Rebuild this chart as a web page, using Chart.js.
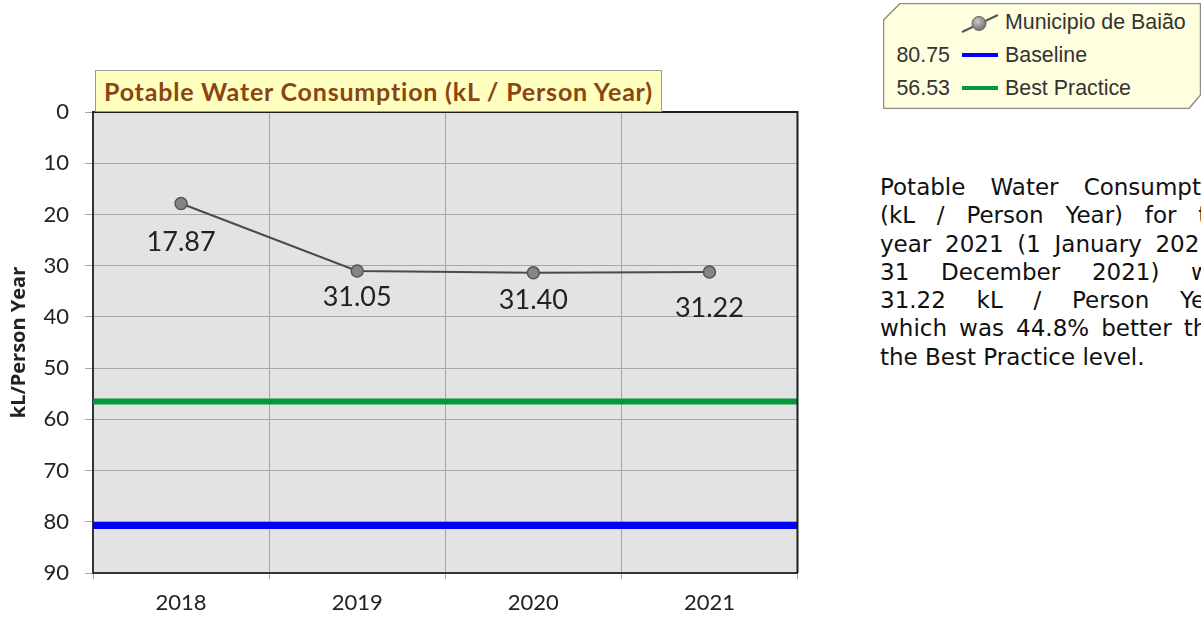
<!DOCTYPE html>
<html>
<head>
<meta charset="utf-8">
<script src="https://cdn.jsdelivr.net/npm/chart.js@4.4.1/dist/chart.umd.min.js"></script>
<style>
  html, body { margin: 0; padding: 0; background: #fff; overflow: hidden; }
  body { width: 1201px; height: 620px; position: relative; }
  #wrap { position: absolute; left: 0; top: 0; width: 805px; height: 620px; }
  #chartTitle {
    position: absolute; left: 95px; top: 70px; width: 567px; height: 42px;
    background: #ffffc0; border: 1px solid #9a9a9a; box-sizing: border-box;
    font: bold 25px Lato, sans-serif; letter-spacing: 0.8px; color: #8a4512;
    line-height: 40px; padding-left: 8px; white-space: nowrap;
  }
  #legend { position: absolute; left: 883px; top: 3px; width: 318px; height: 106px; }
  #legend svg.box { position: absolute; left: 0; top: 0; }
  .row { position: absolute; left: 0; height: 26px; font: 21.4px "Liberation Sans", Arial, sans-serif; color: #333; }
  .row .val { position: absolute; right: 251px; top: 0; }
  .row .icon { position: absolute; left: 77px; top: 0; }
  .row .name { position: absolute; left: 122px; top: 0; white-space: nowrap; }
  #note {
    position: absolute; left: 880px; top: 173px; width: 356px;
    font: 23px "DejaVu Sans", Verdana, sans-serif; line-height: 28.3px; color: #111;
  }
  #note div { white-space: nowrap; text-align: justify; text-align-last: justify; }
  #note div.last { text-align-last: left; }
</style>
</head>
<body>
<div id="wrap"><canvas id="myChart" width="805" height="620"></canvas></div>
<div id="chartTitle">Potable Water Consumption (kL / Person Year)</div>
<div id="legend">
  <svg class="box" width="318" height="106">
    <polygon points="17,0.5 317.5,0.5 317.5,92 306,105.5 0.5,105.5 0.5,17" fill="#ffffe0" stroke="#8c8c8c" stroke-width="1.5"/>
  </svg>
</div>
<div id="note"></div>
<script>
//Chart data
const years = ["2018", "2019", "2020", "2021"];
const seriesName = "Municipio de Baião";
const consumption = [17.87, 31.05, 31.4, 31.22];
const baselineValue = 80.75;
const bestPracticeValue = 56.53;
const yTicks = [0, 10, 20, 30, 40, 50, 60, 70, 80, 90];

//offset of each value label below its point (px)
const labelOffsets = [39, 26, 27, 36];

//Summary text, one entry per printed line
const noteLines = [
  "Potable Water Consumption",
  "(kL / Person Year) for the",
  "year 2021 (1 January 2021 -",
  "31 December 2021) was",
  consumption[3].toFixed(2) + " kL / Person Year,",
  "which was 44.8% better than",
  "the Best Practice level.",
];
const noteEl = document.getElementById("note");
noteLines.forEach((t, i) => {
  const d = document.createElement("div");
  d.textContent = t;
  if (i === noteLines.length - 1) d.className = "last";
  noteEl.appendChild(d);
});

//Legend rows
const legendRows = [
  { val: "", name: seriesName, icon: "marker", top: 7 },
  { val: baselineValue.toFixed(2), name: "Baseline", icon: "#0000ff", top: 40 },
  { val: bestPracticeValue.toFixed(2), name: "Best Practice", icon: "#009a3c", top: 73 },
];
const legendEl = document.getElementById("legend");
legendRows.forEach((r) => {
  const row = document.createElement("div");
  row.className = "row";
  row.style.top = r.top + "px";
  row.style.width = "318px";
  let icon;
  if (r.icon === "marker") {
    icon =
      '<svg class="icon" width="40" height="26"><defs><radialGradient id="g" cx="40%" cy="35%" r="70%"><stop offset="0" stop-color="#c8c8c8"/><stop offset="1" stop-color="#6a6a6a"/></radialGradient></defs>' +
      '<line x1="2" y1="22" x2="38" y2="5" stroke="#555" stroke-width="2"/>' +
      '<circle cx="19" cy="13.5" r="7" fill="url(#g)" stroke="#666" stroke-width="1"/></svg>';
  } else {
    icon =
      '<svg class="icon" width="40" height="26"><line x1="2" y1="12" x2="38" y2="12" stroke="' +
      r.icon + '" stroke-width="4"/></svg>';
  }
  row.innerHTML = '<span class="val">' + r.val + "</span>" + icon + '<span class="name">' + r.name + "</span>";
  legendEl.appendChild(row);
});

//Plot background and frame
const plotFrame = {
  id: "plotFrame",
  beforeDraw(chart) {
    const a = chart.chartArea;
    const ctx = chart.ctx;
    ctx.save();
    ctx.fillStyle = "#e3e3e3";
    ctx.fillRect(a.left, a.top, a.right - a.left, a.bottom - a.top);
    ctx.restore();
  },
  afterDraw(chart) {
    const a = chart.chartArea;
    const ctx = chart.ctx;
    ctx.save();
    ctx.strokeStyle = "#1e1e1e";
    ctx.lineWidth = 2;
    ctx.beginPath();
    ctx.moveTo(a.left, a.top);
    ctx.lineTo(a.right, a.top);
    ctx.lineTo(a.right, a.bottom);
    ctx.stroke();
    ctx.restore();
  },
};

//Value labels under the points
const valueLabels = {
  id: "valueLabels",
  afterDatasetsDraw(chart) {
    const ctx = chart.ctx;
    const meta = chart.getDatasetMeta(0);
    ctx.save();
    ctx.font = "27px Lato, sans-serif";
    ctx.fillStyle = "#222";
    ctx.textAlign = "center";
    ctx.textBaseline = "middle";
    meta.data.forEach((pt, i) => {
      ctx.fillText(consumption[i].toFixed(2), pt.x, pt.y + labelOffsets[i]);
    });
    ctx.restore();
  },
};

const flat = (v) => [
  { x: 0, y: v },
  { x: 1, y: v },
];

var ctx = document.getElementById("myChart").getContext("2d");
var chart = new Chart(ctx, {
  type: "line",
  data: {
    labels: years,
    datasets: [
      {
        label: seriesName,
        data: consumption,
        xAxisID: "x",
        borderColor: "#4a4a4a",
        borderWidth: 2,
        pointRadius: 6,
        pointBackgroundColor: "#858585",
        pointBorderColor: "#555",
        pointBorderWidth: 1.5,
        order: 0,
      },
      {
        label: "Baseline",
        data: flat(baselineValue),
        xAxisID: "x2",
        borderColor: "#0000ff",
        borderWidth: 7,
        pointRadius: 0,
        order: 1,
      },
      {
        label: "Best Practice",
        data: flat(bestPracticeValue),
        xAxisID: "x2",
        borderColor: "#009a3c",
        borderWidth: 6,
        pointRadius: 0,
        order: 1,
      },
    ],
  },
  options: {
    responsive: false,
    animation: false,
    layout: { padding: { top: 112, right: 3, left: 0, bottom: 0 } },
    plugins: {
      legend: { display: false },
      tooltip: { enabled: false },
    },
    scales: {
      x: {
        type: "category",
        offset: true,
        grid: { offset: true, color: "#a6a6a6", lineWidth: 1, tickLength: 6, drawTicks: true },
        border: { color: "#333", width: 2 },
        ticks: { font: { family: "Lato", size: 22 }, color: "#222", padding: 11 },
        afterFit(scale) {
          scale.height = 47;
        },
      },
      x2: {
        type: "linear",
        display: false,
        min: 0,
        max: 1,
      },
      y: {
        reverse: true,
        min: 0,
        max: 90,
        afterBuildTicks(scale) {
          scale.ticks = yTicks.map((v) => ({ value: v }));
        },
        grid: { color: "#a6a6a6", lineWidth: 1, tickLength: 8 },
        border: { color: "#333", width: 2 },
        ticks: { font: { family: "Lato", size: 22 }, color: "#222", padding: 16 },
        title: {
          display: true,
          text: "kL/Person Year",
          font: { family: "Open Sans", size: 20, weight: "bold" },
          color: "#222",
          padding: { top: 7, bottom: 0 },
        },
        afterFit(scale) {
          scale.width = 93;
        },
      },
    },
  },
  plugins: [plotFrame, valueLabels],
});
</script>
</body>
</html>
